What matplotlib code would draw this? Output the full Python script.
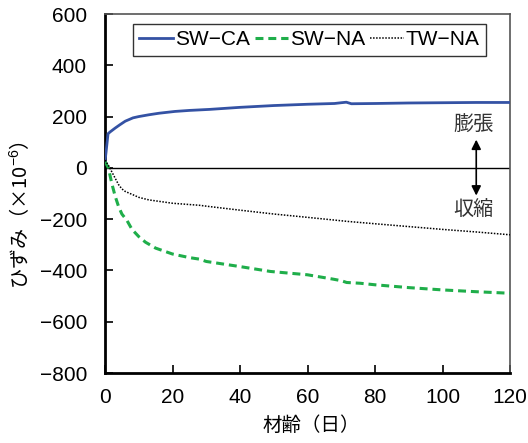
import matplotlib
matplotlib.use("Agg")
import matplotlib.pyplot as plt

plt.rcParams['font.family'] = ['Liberation Sans', 'Noto Sans CJK JP', 'DejaVu Sans']
plt.rcParams['mathtext.fontset'] = 'custom'
plt.rcParams['mathtext.rm'] = 'Liberation Sans'
plt.rcParams['mathtext.it'] = 'Liberation Sans'

# ---- data ----
ca_days = [0, 0.3, 0.9, 1.5, 3, 4.4, 6, 8.3, 10, 13, 16, 20.7, 25, 31, 40, 50, 60, 68, 70, 71.5, 73, 80, 90, 100, 110, 120]
ca_vals = [25, 60, 133, 140, 155, 168, 182, 195, 200, 207, 213, 220, 224, 228, 236, 243, 248, 251, 254, 256, 250, 251, 253, 254, 255, 255]

swna_days = [0, 1, 2, 3, 4, 5, 6.5, 8, 10, 12, 15, 20, 25, 28, 30, 40, 49, 60, 67.6, 70, 71.6, 75.6, 80, 90, 100, 110, 120]
swna_vals = [25, 0, -60, -110, -150, -180, -205, -240, -268, -290, -313, -336, -350, -356, -365, -385, -404, -417, -434, -440, -447, -450, -456, -467, -476, -483, -489]

twna_days = [0, 1, 2, 3, 4, 5, 6, 7.4, 8.3, 10, 13, 20, 28, 31, 40, 50, 60, 72, 80, 90, 100, 110, 120]
twna_vals = [30, 10, -15, -40, -65, -82, -92, -100, -105, -115, -125, -138, -146, -151, -165, -180, -193, -209, -218, -229, -240, -250, -261]

series_labels = ['SW\u2212CA', 'SW\u2212NA', 'TW\u2212NA']
xticks = [0, 20, 40, 60, 80, 100, 120]
yticks = [-800, -600, -400, -200, 0, 200, 400, 600]

fig = plt.figure(figsize=(5.28, 4.43), dpi=100)
ax = fig.add_axes([105/528, 1-373/443, 405/528, 359/443])

ax.axhline(0, color='black', lw=1.0, zorder=1)
ax.plot(ca_days, ca_vals, color='#3452a4', lw=2.0, label=series_labels[0], zorder=3)
ax.plot(swna_days, swna_vals, color='#1fae4a', lw=2.2, dashes=(2.6, 1.6), label=series_labels[1], zorder=3)
ax.plot(twna_days, twna_vals, color='black', lw=1.1, linestyle=(0, (1, 1)), label=series_labels[2], zorder=3)

ax.set_xlim(0, 120)
ax.set_ylim(-800, 600)
ax.set_xticks(xticks)
ax.set_yticks(yticks)
ax.set_xticklabels([str(v) for v in xticks])
ax.set_yticklabels([str(v).replace('-', '\u2212') for v in yticks])
ax.tick_params(direction='in', length=6, width=1.2, labelsize=15)
ax.tick_params(axis='x', pad=11)
ax.tick_params(axis='y', pad=13)

for s in ['left', 'bottom']:
    ax.spines[s].set_linewidth(2.0)
    ax.spines[s].set_color('black')
for s in ['top', 'right']:
    ax.spines[s].set_linewidth(1.2)
    ax.spines[s].set_color('#555555')

jp = ['Noto Sans CJK JP', 'DejaVu Sans']
fig.text(311/528, 1-425/443, '材齢（日）', fontsize=14, family=jp, ha='center', va='center')
fig.text(20/528, 1-215/443, 'ひずみ（×10$^{\u22126}$）', fontsize=14.5, family=jp,
         ha='center', va='center', rotation=90)

leg = ax.legend(loc='upper left', bbox_to_anchor=(0.069, 0.972), ncol=3, frameon=True,
                fancybox=False, edgecolor='black', fontsize=15, handlelength=1.6,
                handletextpad=0.1, columnspacing=0.25, borderpad=0.3, borderaxespad=0)
leg.get_frame().set_linewidth(1.0)

ax.text(109.3, 165, '膨張', ha='center', va='center', fontsize=14.5, family=jp, color='#333333')
ax.text(109.3, -165, '収縮', ha='center', va='center', fontsize=14.5, family=jp, color='#333333')
ax.annotate('', xy=(110, 110), xytext=(110, -108),
            arrowprops=dict(arrowstyle='<|-|>', color='black', lw=1.2, mutation_scale=14, shrinkA=0, shrinkB=0))

fig.savefig('out.png', dpi=100)
